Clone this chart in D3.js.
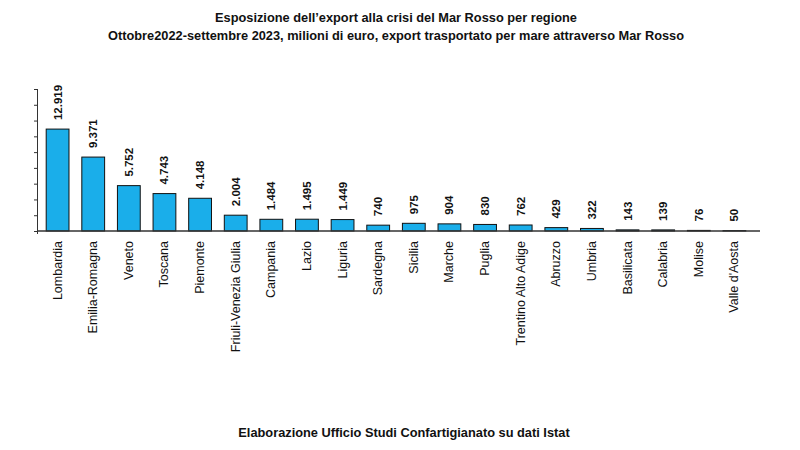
<!DOCTYPE html>
<meta charset="utf-8">
<html>
<head>
  <title>Export Mar Rosso per regione</title>
  <script src="https://d3js.org/d3.v7.min.js"></script>
  <style>
    body { margin: 0; background: #fff; }
    text { font-family: "Liberation Sans", Arial, sans-serif; fill: #111; }
  </style>
</head>
<body>
<div id="chart"></div>
<script>
  var regions = ["Lombardia", "Emilia-Romagna", "Veneto", "Toscana", "Piemonte",
    "Friuli-Venezia Giulia", "Campania", "Lazio", "Liguria", "Sardegna", "Sicilia",
    "Marche", "Puglia", "Trentino Alto Adige", "Abruzzo", "Umbria", "Basilicata",
    "Calabria", "Molise", "Valle d'Aosta"];
  var exportValues = [12919, 9371, 5752, 4743, 4148, 2004, 1484, 1495, 1449, 740,
    975, 904, 830, 762, 429, 322, 143, 139, 76, 50];
  var yTicks = [0, 2000, 4000, 6000, 8000, 10000, 12000, 14000, 16000, 18000];

  var titleLines = ["Esposizione dell\u2019export alla crisi del Mar Rosso per regione",
    "Ottobre2022-settembre 2023, milioni di euro, export trasportato per mare attraverso Mar Rosso"];
  var sourceText = "Elaborazione Ufficio Studi Confartigianato su dati Istat";

  var W = 800, H = 450;
  var margin = { top: 89, left: 38, right: 40, bottom: 219 };

  var svg = d3.select("#chart").append("svg")
    .attr("width", W).attr("height", H);

  var x = d3.scaleBand()
    .domain(regions)
    .range([margin.left, 754])
    .paddingInner(0.36)
    .paddingOuter(0.23);

  var y = d3.scaleLinear()
    .domain([0, 18000])
    .range([H - margin.bottom, margin.top]);

  var fmt = function (v) { return d3.format(",")(v).replace(/,/g, "."); };

  // titles
  svg.selectAll(".title")
    .data(titleLines)
    .enter().append("text")
    .attr("x", 396)
    .attr("y", function (d, i) { return 22 + i * 18; })
    .attr("text-anchor", "middle")
    .style("font-size", "12.8px")
    .style("font-weight", "bold")
    .text(function (d) { return d; });

  // y axis (ticks only, no labels)
  var yAxis = svg.append("g")
    .attr("transform", "translate(" + margin.left + ",0)")
    .call(d3.axisLeft(y).tickValues(yTicks).tickSize(4).tickFormat(""));
  yAxis.select(".domain").attr("stroke", "#333").attr("d", "M-0.5," + y(18000) + "V" + (y(0) + 3));
  yAxis.selectAll(".tick line").attr("stroke", "#333");

  // bars
  svg.selectAll(".bar")
    .data(exportValues)
    .enter().append("rect")
    .attr("x", function (d, i) { return x(regions[i]); })
    .attr("y", function (d) { return y(d); })
    .attr("width", x.bandwidth())
    .attr("height", function (d) { return y(0) - y(d); })
    .attr("fill", "#1aaeea")
    .attr("stroke", "#111")
    .attr("stroke-width", 1);

  // x axis line
  svg.append("line")
    .attr("x1", margin.left).attr("x2", W - margin.right)
    .attr("y1", y(0)).attr("y2", y(0))
    .attr("stroke", "#333").attr("stroke-width", 1.5);

  // value labels
  svg.selectAll(".val")
    .data(exportValues)
    .enter().append("text")
    .attr("transform", function (d, i) {
      return "translate(" + (x(regions[i]) + x.bandwidth() / 2 + 4) + "," + (y(d) - 9) + ") rotate(-90)";
    })
    .attr("text-anchor", "start")
    .style("font-size", "11.5px")
    .style("font-weight", "bold")
    .text(function (d) { return fmt(d); });

  // category labels
  svg.selectAll(".cat")
    .data(regions)
    .enter().append("text")
    .attr("transform", function (d) {
      return "translate(" + (x(d) + x.bandwidth() / 2 + 4) + "," + (y(0) + 10) + ") rotate(-90)";
    })
    .attr("text-anchor", "end")
    .style("font-size", "12.5px")
    .text(function (d) { return d; });

  // source
  svg.append("text")
    .attr("x", 404).attr("y", 437)
    .attr("text-anchor", "middle")
    .style("font-size", "12.8px")
    .style("font-weight", "bold")
    .text(sourceText);
</script>
</body>
</html>
